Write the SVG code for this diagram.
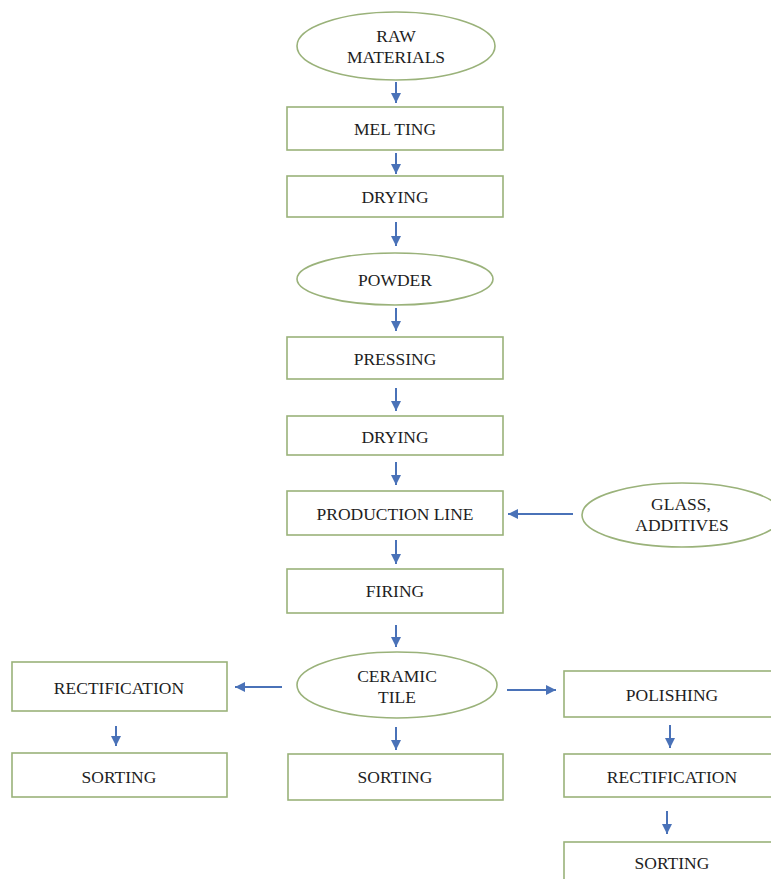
<svg xmlns="http://www.w3.org/2000/svg" width="771" height="879" viewBox="0 0 771 879">
<defs>
<style>
.box{fill:#ffffff;stroke:#9ab27a;stroke-width:1.6}
.ell{fill:#ffffff;stroke:#9ab27a;stroke-width:1.6}
.t{font-family:"Liberation Serif","Times New Roman",serif;font-size:17.5px;fill:#1e1e1e;text-anchor:middle;dominant-baseline:central}
.c{stroke:#4a72b8;stroke-width:2;fill:none;marker-end:url(#ah)}
</style>
<marker id="ah" markerUnits="userSpaceOnUse" markerWidth="12" markerHeight="12" viewBox="0 0 12 12" refX="10" refY="6" orient="auto">
<path d="M0,1 L10,6 L0,11 Z" fill="#4a72b8"/>
</marker>
</defs>
<rect width="771" height="879" fill="#ffffff"/>
<g id="connectors">
<line class="c" x1="396" y1="82" x2="396" y2="103"/>
<line class="c" x1="396" y1="153" x2="396" y2="174"/>
<line class="c" x1="396" y1="222" x2="396" y2="246"/>
<line class="c" x1="396" y1="308" x2="396" y2="331"/>
<line class="c" x1="396" y1="388" x2="396" y2="411"/>
<line class="c" x1="396" y1="462" x2="396" y2="485"/>
<line class="c" x1="396" y1="540" x2="396" y2="564"/>
<line class="c" x1="396" y1="625" x2="396" y2="647"/>
<line class="c" x1="396" y1="727" x2="396" y2="750"/>
<line class="c" x1="573" y1="514" x2="508" y2="514"/>
<line class="c" x1="282" y1="687" x2="235" y2="687"/>
<line class="c" x1="116" y1="726" x2="116" y2="746"/>
<line class="c" x1="507" y1="690" x2="556" y2="690"/>
<line class="c" x1="670" y1="725" x2="670" y2="748"/>
<line class="c" x1="667" y1="811" x2="667" y2="834"/>
</g>
<g id="raw-materials">
<ellipse class="ell" cx="396" cy="46" rx="99" ry="34"/>
<text class="t" x="396" y="36">RAW</text>
<text class="t" x="396" y="57">MATERIALS</text>
</g>
<g id="melting">
<rect class="box" x="287" y="107" width="216" height="43"/>
<text class="t" x="395" y="129">MEL TING</text>
</g>
<g id="drying1">
<rect class="box" x="287" y="176" width="216" height="41"/>
<text class="t" x="395" y="197">DRYING</text>
</g>
<g id="powder">
<ellipse class="ell" cx="395" cy="279" rx="98" ry="26"/>
<text class="t" x="395" y="280">POWDER</text>
</g>
<g id="pressing">
<rect class="box" x="287" y="337" width="216" height="42"/>
<text class="t" x="395" y="359">PRESSING</text>
</g>
<g id="drying2">
<rect class="box" x="287" y="416" width="216" height="39"/>
<text class="t" x="395" y="437">DRYING</text>
</g>
<g id="production-line">
<rect class="box" x="287" y="491" width="216" height="44"/>
<text class="t" x="395" y="514">PRODUCTION LINE</text>
</g>
<g id="glass-additives">
<ellipse class="ell" cx="682" cy="515" rx="100" ry="32"/>
<text class="t" x="681" y="504">GLASS,</text>
<text class="t" x="682" y="525">ADDITIVES</text>
</g>
<g id="firing">
<rect class="box" x="287" y="569" width="216" height="44"/>
<text class="t" x="395" y="591">FIRING</text>
</g>
<g id="ceramic-tile">
<ellipse class="ell" cx="397" cy="685" rx="100" ry="33"/>
<text class="t" x="397" y="676">CERAMIC</text>
<text class="t" x="397" y="697">TILE</text>
</g>
<g id="rectification-left">
<rect class="box" x="12" y="662" width="215" height="49"/>
<text class="t" x="119" y="688">RECTIFICATION</text>
</g>
<g id="sorting-left">
<rect class="box" x="12" y="753" width="215" height="44"/>
<text class="t" x="119" y="777">SORTING</text>
</g>
<g id="sorting-center">
<rect class="box" x="288" y="754" width="215" height="46"/>
<text class="t" x="395" y="777">SORTING</text>
</g>
<g id="polishing">
<rect class="box" x="564" y="671" width="216" height="46"/>
<text class="t" x="672" y="695">POLISHING</text>
</g>
<g id="rectification-right">
<rect class="box" x="564" y="754" width="216" height="43"/>
<text class="t" x="672" y="777">RECTIFICATION</text>
</g>
<g id="sorting-right">
<rect class="box" x="564" y="842" width="216" height="46"/>
<text class="t" x="672" y="863">SORTING</text>
</g>
</svg>
